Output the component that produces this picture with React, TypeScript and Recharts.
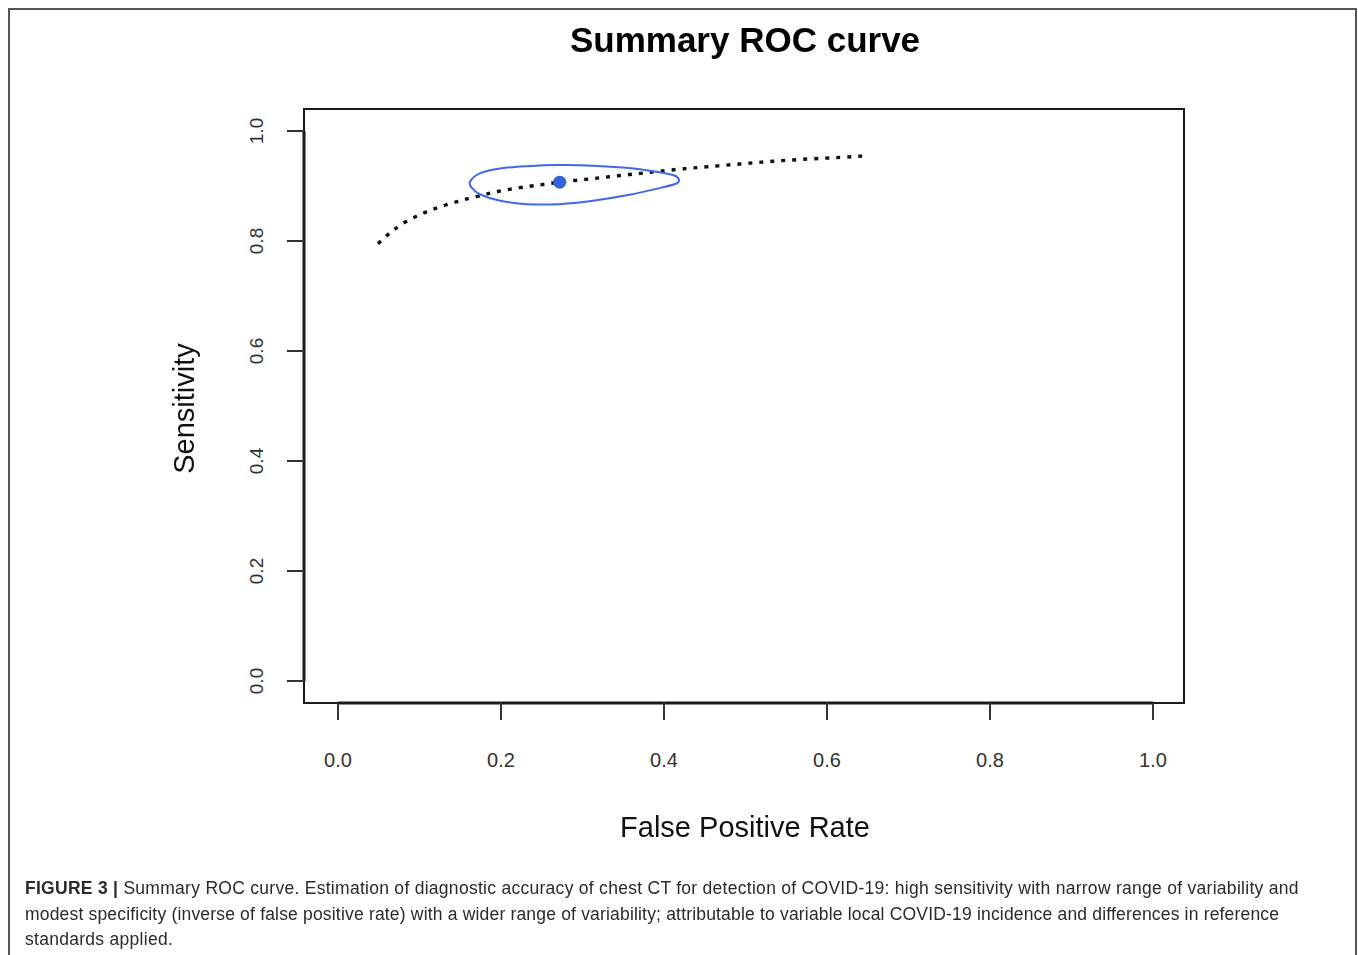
import React from 'react';
import { ComposedChart, Line, XAxis, YAxis, ReferenceArea, ReferenceLine } from 'recharts';

const xTicks = [0, 0.2, 0.4, 0.6, 0.8, 1.0];
const yTicks = [0, 0.2, 0.4, 0.6, 0.8, 1.0];
const xDomain = [-0.0417, 1.038];
const yDomain = [-0.04, 1.04];

// SROC curve (dotted)
const curveFpr = [0.049, 0.060, 0.070, 0.082, 0.095, 0.107, 0.119, 0.131, 0.145, 0.157, 0.171, 0.183, 0.196, 0.223, 0.248, 0.272, 0.297, 0.322, 0.346, 0.371, 0.395, 0.422, 0.453, 0.493, 0.534, 0.576, 0.616, 0.649];
const curveSens = [0.795, 0.810, 0.822, 0.834, 0.844, 0.852, 0.859, 0.865, 0.871, 0.876, 0.881, 0.8855, 0.890, 0.897, 0.902, 0.907, 0.911, 0.915, 0.919, 0.923, 0.927, 0.931, 0.935, 0.940, 0.945, 0.949, 0.952, 0.955];

// Confidence region (ellipse), traced clockwise from the left tip
const ellipseFpr = [0.162, 0.174, 0.199, 0.232, 0.272, 0.313, 0.354, 0.387, 0.411, 0.418, 0.416, 0.397, 0.354, 0.313, 0.272, 0.232, 0.199, 0.174, 0.164];
const ellipseSens = [0.908, 0.923, 0.932, 0.936, 0.938, 0.937, 0.933, 0.927, 0.920, 0.913, 0.905, 0.897, 0.883, 0.873, 0.867, 0.867, 0.873, 0.885, 0.897];

// Summary point
const pointFpr = [0.272];
const pointSens = [0.907];

const curveData = curveFpr.map((x, i) => ({ x, y: curveSens[i] }));
const ellipseData = ellipseFpr.map((x, i) => ({ x, y: ellipseSens[i] }));
const pointData = pointFpr.map((x, i) => ({ x, y: pointSens[i] }));

const title = 'Summary ROC curve';
const xLabel = 'False Positive Rate';
const yLabel = 'Sensitivity';
const captionBold = 'FIGURE 3 |';
const captionLines = [
  ' Summary ROC curve. Estimation of diagnostic accuracy of chest CT for detection of COVID-19: high sensitivity with narrow range of variability and',
  'modest specificity (inverse of false positive rate) with a wider range of variability; attributable to variable local COVID-19 incidence and differences in reference',
  'standards applied.',
];

const FONT = "'Liberation Sans', Arial, Helvetica, sans-serif";

// closed Catmull-Rom curve factory (d3 curve interface) for the confidence ellipse
function closedSmooth(context: any) {
  let pts: [number, number][] = [];
  return {
    areaStart() {},
    areaEnd() {},
    lineStart() {
      pts = [];
    },
    lineEnd() {
      const n = pts.length;
      if (n < 3) return;
      context.moveTo(pts[0][0], pts[0][1]);
      for (let i = 0; i < n; i++) {
        const p0 = pts[(i - 1 + n) % n];
        const p1 = pts[i];
        const p2 = pts[(i + 1) % n];
        const p3 = pts[(i + 2) % n];
        context.bezierCurveTo(
          p1[0] + (p2[0] - p0[0]) / 6,
          p1[1] + (p2[1] - p0[1]) / 6,
          p2[0] - (p3[0] - p1[0]) / 6,
          p2[1] - (p3[1] - p1[1]) / 6,
          p2[0],
          p2[1]
        );
      }
      context.closePath();
    },
    point(x: number, y: number) {
      pts.push([x, y]);
    },
  };
}

const YTick = (props: any) => {
  const { x, y, payload } = props;
  const cx = x - 22;
  return (
    <text
      x={cx}
      y={y}
      transform={`rotate(-90, ${cx}, ${y})`}
      textAnchor="middle"
      fontSize={19}
      fill="#333"
      fontFamily={FONT}
    >
      {Number(payload.value).toFixed(1)}
    </text>
  );
};

export default function App() {
  return (
    <div style={{ position: 'fixed', left: 8, top: 8, width: 1350, height: 950, background: '#fff' }}>
      <style>{'html{overflow:hidden;}'}</style>
      <div style={{ position: 'absolute', left: 0, top: 0 }}>
        <ComposedChart
          width={1350}
          height={850}
          margin={{ top: 101, right: 174, bottom: 95, left: 236 }}
        >
          <XAxis
            type="number"
            dataKey="x"
            domain={xDomain}
            allowDataOverflow
            ticks={xTicks}
            tickFormatter={(v: number) => v.toFixed(1)}
            axisLine={false}
            tickLine={{ stroke: '#333', strokeWidth: 2 }}
            tickSize={17}
            tickMargin={33}
            height={60}
            tick={{ fontSize: 20, fill: '#333', fontFamily: FONT }}
          />
          <YAxis
            type="number"
            dataKey="y"
            domain={yDomain}
            allowDataOverflow
            ticks={yTicks}
            axisLine={false}
            tickLine={{ stroke: '#333', strokeWidth: 2 }}
            tickSize={17}
            width={60}
            tick={<YTick />}
          />
          <ReferenceArea
            x1={xDomain[0]}
            x2={xDomain[1]}
            y1={yDomain[0]}
            y2={yDomain[1]}
            fill="none"
            stroke="#1a1a1a"
            strokeWidth={2}
            ifOverflow="visible"
          />
          <ReferenceLine
            segment={[{ x: 0, y: yDomain[0] }, { x: 1, y: yDomain[0] }]}
            stroke="#1a1a1a"
            strokeWidth={3}
            ifOverflow="visible"
          />
          <ReferenceLine
            segment={[{ x: xDomain[0], y: 0 }, { x: xDomain[0], y: 1 }]}
            stroke="#1a1a1a"
            strokeWidth={3}
            ifOverflow="visible"
          />
          <Line
            data={curveData}
            dataKey="y"
            type="natural"
            stroke="#111"
            strokeWidth={3.4}
            strokeDasharray="4 7"
            dot={false}
            activeDot={false}
            isAnimationActive={false}
          />
          <Line
            data={ellipseData}
            dataKey="y"
            type={closedSmooth as any}
            stroke="#4169e1"
            strokeWidth={2}
            fill="none"
            dot={false}
            activeDot={false}
            isAnimationActive={false}
          />
          <Line
            data={pointData}
            dataKey="y"
            stroke="#3561dc"
            dot={{ r: 6.5, fill: '#3561dc', stroke: '#3561dc', strokeWidth: 0 }}
            activeDot={false}
            isAnimationActive={false}
          />
        </ComposedChart>
      </div>
      <svg
        width={1350}
        height={950}
        style={{ position: 'absolute', left: 0, top: 0, pointerEvents: 'none', overflow: 'visible' }}
      >
        <path d="M1,950 V1 H1348 V950" fill="none" stroke="#555" strokeWidth={2} />
        <text x={737} y={44} textAnchor="middle" fontSize={35} fontWeight="bold" fill="#000" fontFamily={FONT}>
          {title}
        </text>
        <text x={737} y={829} textAnchor="middle" fontSize={29} fill="#111" fontFamily={FONT}>
          {xLabel}
        </text>
        <text
          x={186}
          y={400.5}
          transform="rotate(-90, 186, 400.5)"
          textAnchor="middle"
          fontSize={29}
          fill="#111"
          fontFamily={FONT}
        >
          {yLabel}
        </text>
        <text x={17} y={886} fontSize={17.5} letterSpacing={0.28} fill="#2a2a2a" fontFamily={FONT}>
          <tspan fontWeight="bold">{captionBold}</tspan>
          <tspan>{captionLines[0]}</tspan>
        </text>
        <text
          x={17}
          y={911.5}
          fontSize={17.5}
          textLength={1254}
          lengthAdjust="spacing"
          fill="#2a2a2a"
          fontFamily={FONT}
        >
          {captionLines[1]}
        </text>
        <text x={17} y={937} fontSize={17.5} letterSpacing={0.28} fill="#2a2a2a" fontFamily={FONT}>
          {captionLines[2]}
        </text>
      </svg>
    </div>
  );
}
